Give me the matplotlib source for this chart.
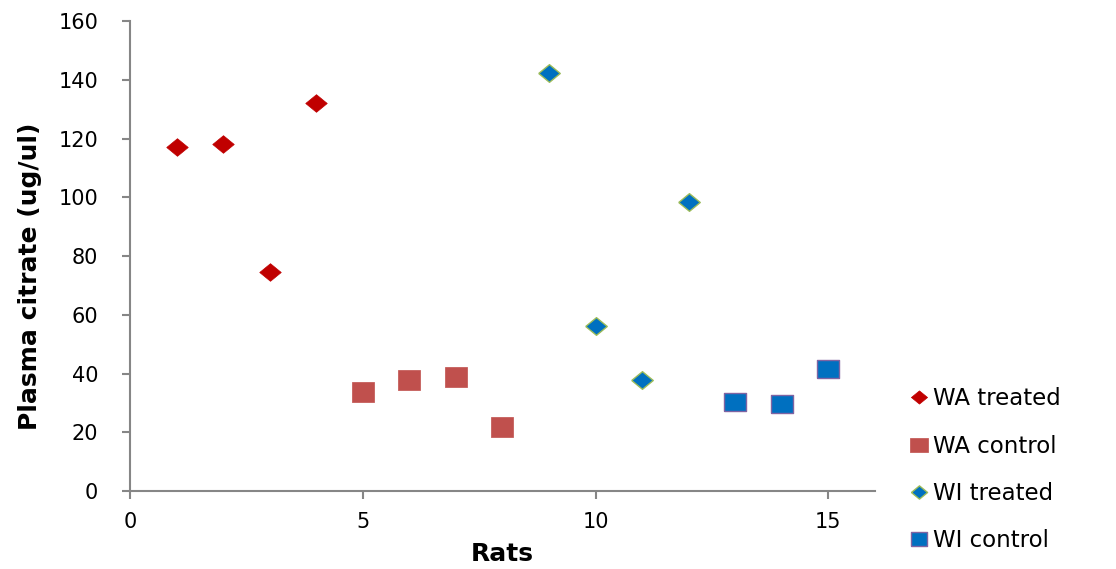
import matplotlib
matplotlib.use("Agg")
import matplotlib.pyplot as plt

# data
wa_treated_x = [1, 2, 3, 4]
wa_treated_y = [117, 118, 74.6, 132]
wa_control_x = [5, 6, 7, 8]
wa_control_y = [33.7, 37.8, 38.8, 21.8]
wi_treated_x = [9, 10, 11, 12]
wi_treated_y = [142.3, 56.2, 37.8, 98.4]
wi_control_x = [13, 14, 15]
wi_control_y = [30.3, 29.6, 41.5]

x_ticks = [0, 5, 10, 15]
y_ticks = list(range(0, 161, 20))

plt.rcParams['font.family'] = ['DejaVu Sans']

fig = plt.figure(figsize=(11.16, 5.69), dpi=100)
ax = fig.add_axes([0.1165, 0.137, 0.6675, 0.826])

diamond = [(-1, 0), (0, 0.82), (1, 0), (0, -0.82), (-1, 0)]
square = [(-1, -0.85), (1, -0.85), (1, 0.85), (-1, 0.85), (-1, -0.85)]

ax.plot(wa_treated_x, wa_treated_y, ls='none', marker=diamond, ms=15.5,
        mfc='#C00000', mec='#C00000', mew=0.5, label='WA treated')
ax.plot(wa_control_x, wa_control_y, ls='none', marker=square, ms=16.5,
        mfc='#C0504D', mec='#C0504D', mew=0.5, label='WA control')
ax.plot(wi_treated_x, wi_treated_y, ls='none', marker=diamond, ms=15.5,
        mfc='#0070C0', mec='#9BBB59', mew=1.0, label='WI treated')
ax.plot(wi_control_x, wi_control_y, ls='none', marker=square, ms=16,
        mfc='#0070C0', mec='#8064A2', mew=1.0, label='WI control')

ax.set_xlim(0, 16)
ax.set_ylim(0, 160)
ax.set_xticks(x_ticks)
ax.set_yticks(y_ticks)

for s in ['top', 'right']:
    ax.spines[s].set_visible(False)
for s in ['left', 'bottom']:
    ax.spines[s].set_color('#868686')
    ax.spines[s].set_linewidth(1.5)
ax.tick_params(axis='both', colors='#868686', length=6, width=1.5,
               labelcolor='black', labelsize=15)
ax.tick_params(axis='y', pad=17)
ax.tick_params(axis='x', pad=9)

fig.text(0.45, 0.027, 'Rats', fontsize=18, fontweight='bold', ha='center', va='center')
fig.text(0.027, 0.515, 'Plasma citrate (ug/ul)', fontsize=18, fontweight='bold',
         rotation=90, ha='center', va='center')

leg = ax.legend(loc='upper left', bbox_to_anchor=(0.813, 0.319),
                bbox_transform=fig.transFigure, frameon=False,
                fontsize=16.5, handletextpad=0.1, labelspacing=1.05, handlelength=1.0,
                borderaxespad=0, borderpad=0, markerscale=0.75)

fig.savefig('out.png', dpi=100)
